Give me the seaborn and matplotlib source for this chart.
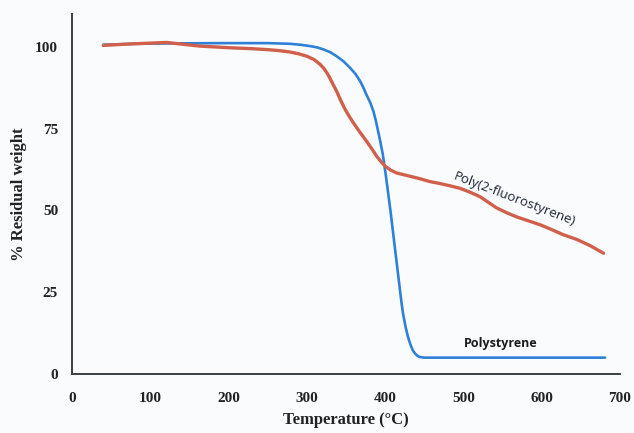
import matplotlib
matplotlib.use("Agg")
import matplotlib.pyplot as plt
import seaborn as sns
import pandas as pd

# Polystyrene (blue)
ps_temp = [40, 80, 120, 190, 250, 278, 292, 304, 313, 321, 330, 338, 347, 355, 362, 368, 372, 376, 381, 385, 388, 391, 394, 397, 401, 404, 407, 410, 413, 416, 419, 421, 423, 426, 429, 432, 435, 438, 441, 444, 450, 470, 550, 620, 681]
ps_wt = [100.6, 100.9, 101.0, 101.1, 101.1, 100.9, 100.6, 100.2, 99.8, 99.2, 98.3, 97.1, 95.5, 93.6, 91.7, 89.5, 87.6, 85.4, 82.9, 80.3, 77.5, 74.2, 70.8, 67.1, 60.5, 55.0, 49.5, 43.5, 37.5, 31.5, 25.5, 21.6, 18.3, 14.5, 11.5, 9.2, 7.4, 6.3, 5.6, 5.2, 5.0, 5.0, 5.0, 5.0, 5.0]

# Poly(2-fluorostyrene) (red)
pfs_temp = [40, 70, 100, 121, 140, 163, 200, 230, 250, 265, 278, 290, 300, 309, 317, 322, 327, 332, 338, 343, 349, 355, 361, 368, 376, 383, 389, 395, 400, 407, 415, 427, 444, 457, 470, 483, 496, 508, 521, 531, 542, 555, 568, 583, 598, 613, 627, 645, 662, 679]
pfs_wt = [100.4, 100.8, 101.1, 101.3, 100.8, 100.2, 99.7, 99.4, 99.1, 98.8, 98.4, 97.8, 97.1, 96.1, 94.6, 93.3, 91.5, 89.2, 86.4, 83.7, 80.8, 78.4, 76.2, 73.8, 71.2, 68.8, 66.6, 64.8, 63.5, 62.3, 61.4, 60.7, 59.7, 58.8, 58.2, 57.5, 56.7, 55.6, 54.2, 52.6, 50.8, 49.3, 48.0, 46.8, 45.6, 44.1, 42.6, 41.1, 39.2, 36.9]

x_ticks = [0, 100, 200, 300, 400, 500, 600, 700]
y_ticks = [0, 25, 50, 75, 100]

sns.set_style("white")
plt.rcParams['font.family'] = ['DejaVu Sans']

fig = plt.figure(figsize=(6.34, 4.33), dpi=100, facecolor='#fafbfd')
ax = fig.add_axes([72/634, 1-374/433, (620-72)/634, (374-14)/433])
ax.set_facecolor('#fafbfd')

df_ps = pd.DataFrame({'T': ps_temp, 'W': ps_wt})
df_pfs = pd.DataFrame({'T': pfs_temp, 'W': pfs_wt})

sns.lineplot(data=df_ps, x='T', y='W', ax=ax, color='#2f80d8', linewidth=1.9, sort=False)
sns.lineplot(data=df_pfs, x='T', y='W', ax=ax, color='#d0604b', linewidth=2.4, sort=False)

ax.set_xlim(0, 700)
ax.set_ylim(0, 110)
ax.set_xticks(x_ticks)
ax.set_yticks(y_ticks)
ax.set_xticklabels([str(v) for v in x_ticks], fontfamily='Liberation Serif', fontweight='bold', fontsize=11, color='#222222')
ax.set_yticklabels([str(v) for v in y_ticks], fontfamily='Liberation Serif', fontweight='bold', fontsize=11, color='#222222')
ax.tick_params(axis='both', length=0)
ax.tick_params(axis='x', pad=13)
ax.tick_params(axis='y', pad=10)

for s in ['top', 'right']:
    ax.spines[s].set_visible(False)
for s in ['left', 'bottom']:
    ax.spines[s].set_color('#3a3f45')
    ax.spines[s].set_linewidth(1.4)

ax.set_xlabel('Temperature (°C)', fontfamily='Liberation Serif', fontweight='bold', fontsize=12, color='#222222', labelpad=5)
ax.set_ylabel('% Residual weight', fontfamily='Liberation Serif', fontweight='bold', fontsize=12, color='#222222', labelpad=6)

ax.text(565, 53.5, 'Poly(2-fluorostyrene)', rotation=-21, fontfamily='Open Sans', fontsize=9.5,
        color='#1c2433', ha='center', va='center', rotation_mode='anchor')
ax.text(547, 9.2, 'Polystyrene', fontfamily='Open Sans', fontweight='bold', fontsize=9,
        color='#1c1c1c', ha='center', va='center')

fig.savefig('out.png', dpi=100, facecolor=fig.get_facecolor())
